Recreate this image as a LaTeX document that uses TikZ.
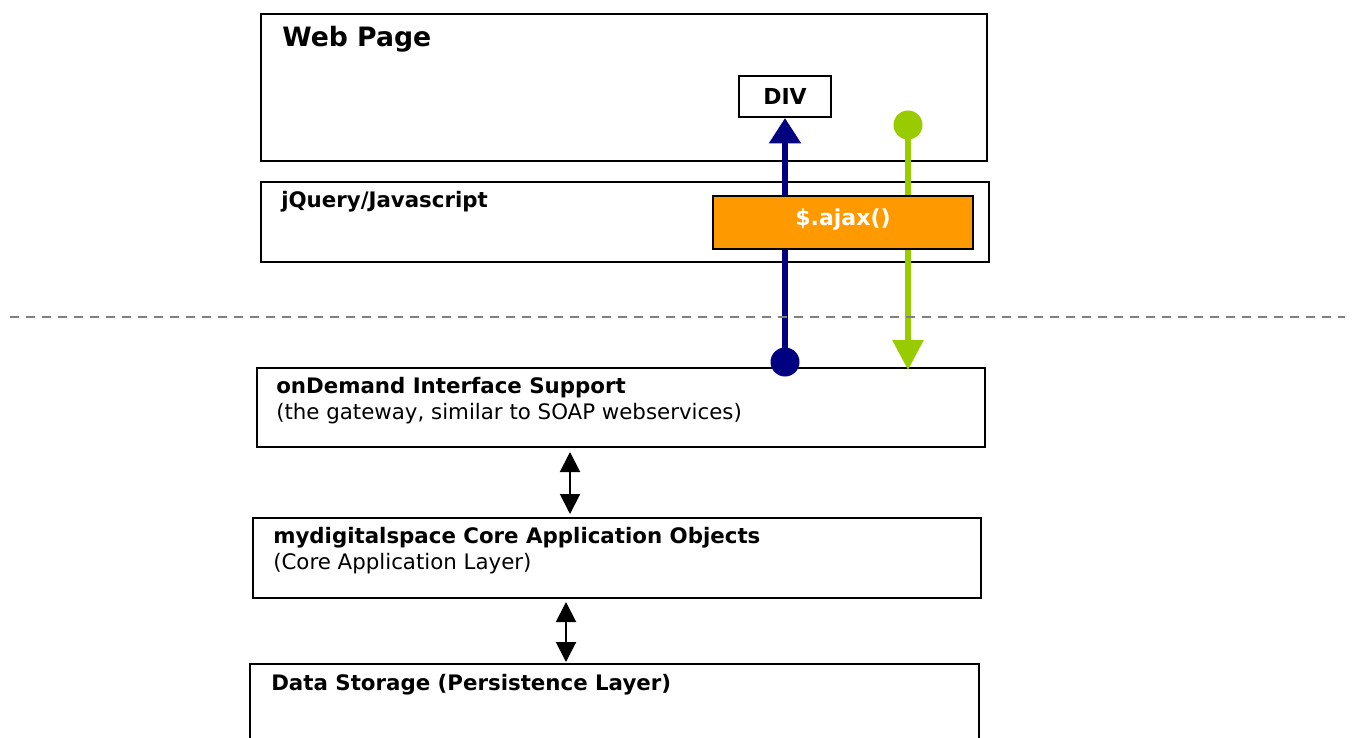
\documentclass[tikz,border=0pt]{standalone}
\usepackage{fontspec}
\setmainfont{DejaVu Sans}
\usetikzlibrary{positioning,arrows.meta}

\definecolor{navyline}{RGB}{0,0,128}
\definecolor{limeline}{RGB}{153,204,0}
\definecolor{ajaxorange}{RGB}{255,153,0}

\begin{document}
\begin{tikzpicture}[
    x=0.75pt, y=-0.75pt,
    layer/.style={draw, line width=1.5pt, anchor=north west, inner sep=0pt},
    caption/.style={inner sep=0pt, align=left, font=\fontsize{16}{19.5}\selectfont},
    boldcaption/.style={caption, font=\fontsize{16}{19.5}\selectfont\bfseries},
    dot/.style={circle, inner sep=0pt, minimum size=21.75pt},
    callarrow/.style={line width=4.5pt, -{Triangle[width=23pt, length=19pt]}},
    syncarrow/.style={line width=1.5pt, {Triangle[width=15pt, length=15pt]}-{Triangle[width=15pt, length=15pt]}},
    divider/.style={draw=black!50, line width=1.6pt, dash pattern=on 6.75pt off 5.25pt}
]
\useasboundingbox (0,0) rectangle (1355,738);
\clip (0,0) rectangle (1355,738);

% Layers
\node[layer, minimum width=544.5pt, minimum height=110.25pt] (web) at (260,13) {};
\node[layer, minimum width=69pt, minimum height=30.75pt] (div) at (738,75) {};
\node[layer, minimum width=546pt, minimum height=60pt] (jquery) at (260,181) {};
\node[layer, minimum width=546pt, minimum height=59.25pt] (ondemand) at (256,367) {};
\node[layer, minimum width=546pt, minimum height=60pt] (core) at (252,517) {};
\node[layer, minimum width=546.75pt, minimum height=75pt] (storage) at (249,663) {};

% Layer captions
\node[caption, font=\fontsize{20}{24}\selectfont\bfseries, below right=9.5pt and 16.5pt of web.north west] (webtitle) {Web Page};
\node[boldcaption, font=\fontsize{16.5}{19.5}\selectfont\bfseries] (divtitle) at (div.center) {DIV};
\node[boldcaption, below right=7.5pt and 15.75pt of jquery.north west] (jquerytitle) {jQuery/Javascript};
\node[caption, below right=7.5pt and 15pt of ondemand.north west] (ondemandtitle) {\textbf{onDemand Interface Support}\\(the gateway, similar to SOAP webservices)};
\node[caption, below right=7.5pt and 15.75pt of core.north west] (coretitle) {\textbf{mydigitalspace Core Application Objects}\\(Core Application Layer)};
\node[boldcaption, below right=8.25pt and 16.5pt of storage.north west] (storagetitle) {Data Storage (Persistence Layer)};

% Request and response
\node[dot, fill=navyline] (bluestart) at (785,362) {};
\node[dot, fill=limeline] (limestart) at (908,125) {};
\coordinate (limeend) at (908,370);
\draw[callarrow, navyline] (bluestart.center) -- (bluestart |- div.south);
\draw[callarrow, limeline, -{Triangle[width=22.5pt, length=22.5pt]}] (limestart.center) -- (limeend);

\node[layer, fill=ajaxorange, minimum width=195pt, minimum height=39.75pt] (ajax) at (712,195) {};
\node[boldcaption, font=\fontsize{16.5}{19.5}\selectfont\bfseries, text=white] (ajaxtitle) at ([yshift=2pt]ajax.center) {\$.ajax()};

% Client / server split
\draw[divider] (10,317) -- (1345,317);

% Layer links
\draw[syncarrow] ([xshift=235.5pt, yshift=-3pt]ondemand.south west) -- ([xshift=238.5pt, yshift=2.25pt]core.north west);
\draw[syncarrow] ([xshift=235.5pt, yshift=-2.25pt]core.south west) -- ([xshift=237.75pt, yshift=0.75pt]storage.north west);

\end{tikzpicture}
\end{document}
